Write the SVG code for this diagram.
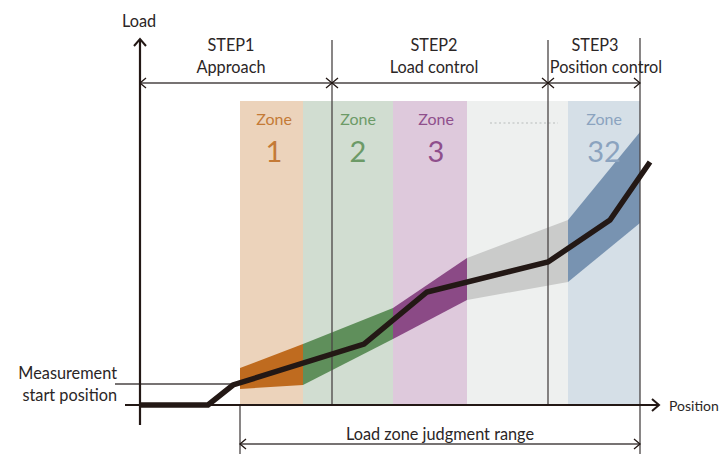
<svg xmlns="http://www.w3.org/2000/svg" width="725" height="454" viewBox="0 0 725 454">
<defs>
<style>
text{font-family:"Lato","Noto Sans","Liberation Sans",sans-serif;fill:#2b2626;}
.lbl{font-size:16.3px;}
.zn{font-size:16px;text-anchor:middle;}
.num{font-size:29px;text-anchor:middle;}
.mid{text-anchor:middle;}
.thin{stroke:#4a4444;stroke-width:1.3;fill:none;}
.axis{stroke:#231815;stroke-width:2.2;fill:none;}
</style>
<marker id="chev" viewBox="-8 -7 10 14" markerWidth="10" markerHeight="14" refX="0" refY="0" markerUnits="userSpaceOnUse" orient="auto-start-reverse">
<path d="M-6,-5 L0,0 L-6,5" fill="none" stroke="#231815" stroke-width="1.3"/>
</marker>
<marker id="axarr" viewBox="-10 -8 12 16" markerWidth="12" markerHeight="16" refX="0" refY="0" markerUnits="userSpaceOnUse" orient="auto">
<path d="M-7,-6 L0,0 L-7,6" fill="none" stroke="#231815" stroke-width="2"/>
</marker>
</defs>
<g id="zones">
<g id="zone1"><rect x="240" y="101" width="63" height="304" fill="#ecd3bb"/><polygon points="240,368 303,344 303,385 240,389" fill="#bf6b1f"/><text class="zn" x="274" y="125" style="fill:#c47a36">Zone</text><text class="num" x="274" y="162" style="fill:#c47a36">1</text></g>
<g id="zone2"><rect x="303" y="101" width="90" height="304" fill="#d1ddd1"/><polygon points="303,344 393,308 393,339 303,385" fill="#5f8f5b"/><text class="zn" x="358" y="125" style="fill:#6c9a67">Zone</text><text class="num" x="358" y="162" style="fill:#6c9a67">2</text></g>
<g id="zone3"><rect x="393" y="101" width="74" height="304" fill="#dec9dc"/><polygon points="393,308 467,258 467,300 393,339" fill="#8b4a86"/><text class="zn" x="436" y="125" style="fill:#8f4f8c">Zone</text><text class="num" x="436" y="162" style="fill:#8f4f8c">3</text></g>
<g id="zoneN"><rect x="467" y="101" width="101" height="304" fill="#eef0ef"/><polygon points="467,258 568,220 568,282 467,300" fill="#cacbca"/><line x1="490" y1="123" x2="558" y2="123" stroke="#b8bcbc" stroke-width="1.2" stroke-dasharray="2,2.5"/></g>
<g id="zone32"><rect x="568" y="101" width="72" height="304" fill="#d5dfe7"/><polygon points="568,220 640,132 640,223 568,282" fill="#7893b1"/><text class="zn" x="604" y="125" style="fill:#8ba3bf">Zone</text><text class="num" x="604" y="162" style="fill:#8ba3bf">32</text></g>
</g>
<g id="connectors">
<line class="thin" x1="332" y1="40" x2="332" y2="405"/>
<line class="thin" x1="548" y1="40" x2="548" y2="405"/>
<line class="thin" x1="640" y1="38" x2="640" y2="454"/>
<line class="thin" x1="240" y1="405" x2="240" y2="454"/>
<line class="thin" x1="140" y1="83" x2="332" y2="83" marker-start="url(#chev)" marker-end="url(#chev)"/>
<line class="thin" x1="332" y1="83" x2="548" y2="83" marker-start="url(#chev)" marker-end="url(#chev)"/>
<line class="thin" x1="548" y1="83" x2="640" y2="83" marker-start="url(#chev)" marker-end="url(#chev)"/>
<line class="thin" x1="240" y1="444" x2="640" y2="444" marker-start="url(#chev)" marker-end="url(#chev)"/>
<line class="thin" x1="115" y1="384" x2="234" y2="384"/>
<line class="axis" x1="140" y1="425" x2="140" y2="39" marker-end="url(#axarr)"/>
<line class="axis" x1="125" y1="405" x2="659" y2="405" marker-end="url(#axarr)"/>
<polyline points="140,405 208,405 233,385 364,344 427,292 548,262 610,220 650,162" fill="none" stroke="#231815" stroke-width="5.5" stroke-linejoin="miter"/>
</g>
<g id="labels">
<text class="lbl" x="139" y="27" text-anchor="middle">Load</text>
<text x="669" y="411" style="font-size:14px">Position</text>
<text class="lbl mid" x="231" y="51">STEP1</text>
<text class="lbl mid" x="231" y="73">Approach</text>
<text class="lbl mid" x="434" y="51">STEP2</text>
<text class="lbl mid" x="434" y="73">Load control</text>
<text class="lbl mid" x="595" y="51">STEP3</text>
<text class="lbl mid" x="606" y="73">Position control</text>
<text class="lbl" x="117" y="379" text-anchor="end">Measurement</text>
<text class="lbl" x="117" y="401" text-anchor="end">start position</text>
<text class="lbl mid" x="440" y="440">Load zone judgment range</text>
</g>
</svg>
